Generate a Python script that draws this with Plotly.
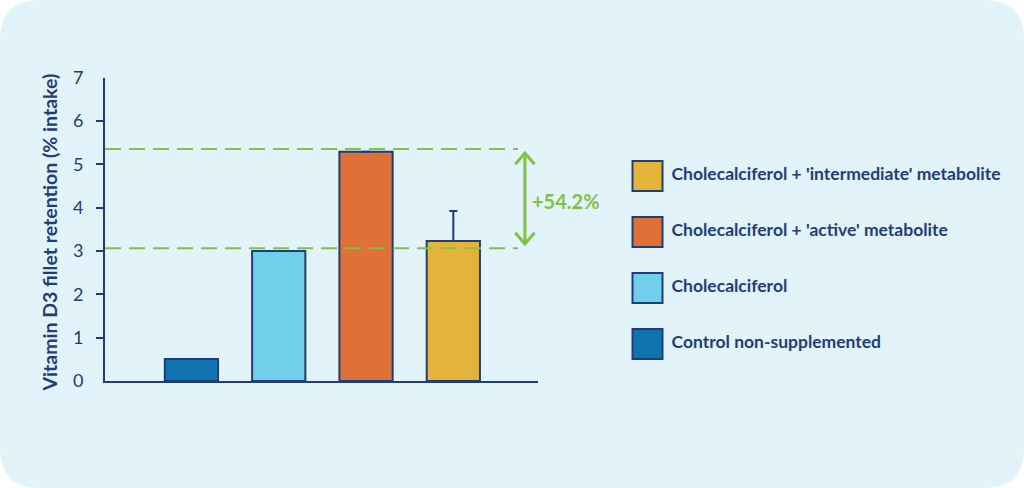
#!/usr/bin/env python3

import plotly.graph_objects as go

W, H = 1024, 488

# data
groups = ["Control non-supplemented", "Cholecalciferol",
          "Cholecalciferol + 'active' metabolite",
          "Cholecalciferol + 'intermediate' metabolite"]
retention = [0.51, 3.0, 5.29, 3.23]
err_plus = [None, None, None, 0.69]
bar_colors = ["#1172b0", "#71cfeb", "#e07136", "#e4b43a"]

ref_high = 5.35
ref_low = 3.06
gain_label = "+54.2%"

y_ticks = [0, 1, 2, 3, 4, 5, 6, 7]

NAVY = "#1f3d78"
GREEN = "#80c343"
BG = "#e2f3fa"
FONT = "Lato"


def px_x(p):
    return p / W


def px_y(p):
    return (H - p) / H


def build_figure():
    fig = go.Figure()

    xs = list(range(len(groups)))

    fig.add_trace(go.Bar(
        x=xs, y=retention, width=0.61,
        marker=dict(color=bar_colors, line=dict(color=NAVY, width=2)),
        error_y=dict(type="data", symmetric=False, array=err_plus,
                     arrayminus=[0] * len(groups), color=NAVY,
                     thickness=2, width=4),
        showlegend=False, hoverinfo="y",
    ))

    # legend drawn as squares on a side axis, top item first
    leg_order = list(range(len(groups)))
    fig.add_trace(go.Scatter(
        x=[0] * len(groups), y=leg_order,
        mode="markers+text",
        marker=dict(symbol="square", size=30, color=bar_colors,
                    line=dict(color=NAVY, width=2)),
        text=[" " + g for g in groups], textposition="middle right",
        textfont=dict(family=FONT, size=17.5, color=NAVY, weight="bold"),
        xaxis="x2", yaxis="y2", showlegend=False, hoverinfo="skip",
    ))

    # invisible trace to carry the minor tick axis
    fig.add_trace(go.Scatter(x=[None], y=[None], xaxis="x", yaxis="y3",
                             showlegend=False))

    shapes = []
    # rounded card
    rx, ry = 40 / W, 40 / H
    card = (f"M {rx},0 L {1 - rx},0 Q 1,0 1,{ry} L 1,{1 - ry} "
            f"Q 1,1 {1 - rx},1 L {rx},1 Q 0,1 0,{1 - ry} L 0,{ry} "
            f"Q 0,0 {rx},0 Z")
    shapes.append(dict(type="path", path=card, xref="paper", yref="paper",
                       fillcolor=BG, line=dict(width=0), layer="below"))

    x_left, x_dash_end, x_arrow = -0.99, 3.74, 3.82
    for yv in (ref_high, ref_low):
        shapes.append(dict(type="line", xref="x", yref="y",
                           x0=x_left, x1=x_dash_end, y0=yv, y1=yv,
                           line=dict(color=GREEN, width=2, dash="16px,8px"),
                           layer="above"))

    # double-headed arrow between the two reference lines
    top_tip, bot_tip = ref_high - 0.09, ref_low + 0.1
    dx, dy = 0.11, 0.26
    shapes.append(dict(type="line", xref="x", yref="y",
                       x0=x_arrow, x1=x_arrow, y0=top_tip, y1=bot_tip,
                       line=dict(color=GREEN, width=3)))
    shapes.append(dict(type="path", xref="x", yref="y",
                       path=f"M {x_arrow - dx},{top_tip - dy} L {x_arrow},{top_tip} "
                            f"L {x_arrow + dx},{top_tip - dy}",
                       line=dict(color=GREEN, width=3)))
    shapes.append(dict(type="path", xref="x", yref="y",
                       path=f"M {x_arrow - dx},{bot_tip + dy} L {x_arrow},{bot_tip} "
                            f"L {x_arrow + dx},{bot_tip + dy}",
                       line=dict(color=GREEN, width=3)))

    annotations = [
        dict(text=gain_label, xref="x", yref="y", x=x_arrow + 0.06,
             y=(ref_high + ref_low) / 2 - 0.05, xanchor="left", showarrow=False,
             font=dict(family=FONT, size=20, color=GREEN, weight="bold")),
        dict(text="Vitamin D3 fillet retention (% intake)", xref="paper",
             yref="paper", x=px_x(49.5), y=px_y(233), textangle=-90,
             showarrow=False, xanchor="center", yanchor="middle",
             font=dict(family=FONT, size=19.5, color=NAVY, weight="bold")),
    ]

    y_dom = [px_y(381), px_y(77.5)]
    fig.update_layout(
        width=W, height=H, margin=dict(l=0, r=0, t=0, b=0),
        paper_bgcolor="white", plot_bgcolor="rgba(0,0,0,0)",
        template="none", bargap=0.39,
        shapes=shapes, annotations=annotations,
        xaxis=dict(domain=[px_x(105), px_x(538)], range=[x_left, 3.97],
                   showline=True, linecolor=NAVY, linewidth=2,
                   showticklabels=False, ticks="", showgrid=False,
                   zeroline=False, automargin=False, fixedrange=True),
        yaxis=dict(domain=y_dom, range=[0, 7], tickvals=y_ticks,
                   ticks="", showline=True, linecolor=NAVY, linewidth=2,
                   showgrid=False, zeroline=False, automargin=False,
                   ticklabelstandoff=16,
                   tickfont=dict(family=FONT, size=18, color=NAVY),
                   fixedrange=True),
        yaxis3=dict(domain=y_dom, range=[0, 7], overlaying="y",
                    tickvals=y_ticks[1:-1], ticks="outside", ticklen=8,
                    tickwidth=2, tickcolor=NAVY, showticklabels=False,
                    showgrid=False, zeroline=False, showline=False,
                    automargin=False, fixedrange=True),
        xaxis2=dict(domain=[0, 1], range=[-647.5, W - 647.5], visible=False,
                    fixedrange=True),
        yaxis2=dict(domain=[0, 1], range=[-144 / 56, 344 / 56], visible=False,
                    fixedrange=True),
    )
    return fig


def main():
    fig = build_figure()
    # drop the default page margin so the card fills the window
    fig.write_html("out.html", config={"displayModeBar": False},
                   post_script="document.body.style.margin='0';")


if __name__ == "__main__":
    main()
